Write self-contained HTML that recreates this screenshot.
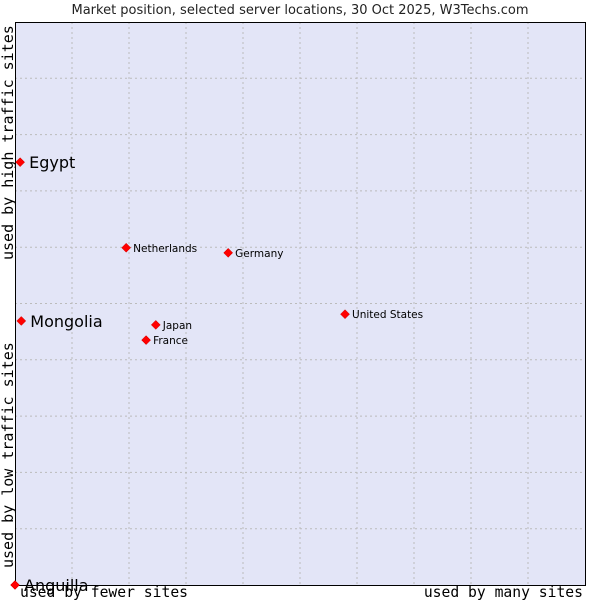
<!DOCTYPE html>
<html><head><meta charset="utf-8"><style>
body{margin:0;background:#fff;width:600px;height:600px;overflow:hidden}
svg text{font-family:"DejaVu Sans","Liberation Sans",sans-serif}
.mono{font-family:"DejaVu Sans Mono","Liberation Mono",monospace}
</style></head><body>
<svg id="chart" width="600" height="600">
<text x="300" y="14" text-anchor="middle" font-size="13" fill="#222">Market position, selected server locations, 30 Oct 2025, W3Techs.com</text>
<rect x="15" y="22" width="570" height="563" fill="#e3e5f7"/>
<g id="grid"></g>
<rect x="15.5" y="22.5" width="570" height="563" stroke="#000" fill="none"/>
<g id="marks"></g>
<text class="mono" x="20" y="597" font-size="14.7" fill="#000">used by fewer sites</text>
<text class="mono" x="583" y="597" font-size="14.7" text-anchor="end" fill="#000">used by many sites</text>
<text class="mono" transform="translate(13,568) rotate(-90)" font-size="15" fill="#000">used by low traffic sites</text>
<text class="mono" transform="translate(13,260) rotate(-90)" font-size="15" fill="#000">used by high traffic sites</text>
</svg>
<script>
const names=["Egypt","Mongolia","Anguilla","Netherlands","Germany","United States","Japan","France"];
const xVals=[0.9,1.1,0,19.5,37.4,57.9,24.7,23.0];
const yVals=[75.1,46.9,0,59.9,59.0,48.1,46.2,43.5];
const bigLabel=[true,true,true,false,false,false,false,false];
const ns="http://www.w3.org/2000/svg";
const X=v=>15+v*5.7, Y=v=>585-v*5.63;
const grid=document.getElementById('grid');
for(let i=1;i<10;i++){
 const v=document.createElementNS(ns,'line');
 v.setAttribute('x1',X(i*10));v.setAttribute('x2',X(i*10));v.setAttribute('y1',22);v.setAttribute('y2',585);
 v.setAttribute('stroke','#bbb');v.setAttribute('stroke-dasharray','2,3');
 
 
 grid.appendChild(v);
 const h=document.createElementNS(ns,'line');
 h.setAttribute('y1',Y(i*10));h.setAttribute('y2',Y(i*10));h.setAttribute('x1',15);h.setAttribute('x2',585);
 h.setAttribute('stroke','#bbb');h.setAttribute('stroke-dasharray','2,3');
 
 
 grid.appendChild(h);
}
const marks=document.getElementById('marks');
names.forEach((n,i)=>{
 const cx=X(xVals[i]),cy=Y(yVals[i]);
 const p=document.createElementNS(ns,'path');
 p.setAttribute('d',`M${cx} ${cy-4.5}L${cx+4.5} ${cy}L${cx} ${cy+4.5}L${cx-4.5} ${cy}Z`);
 p.setAttribute('fill','#f00');p.setAttribute('stroke','#c00');p.setAttribute('stroke-width','0.5');
 
 
 marks.appendChild(p);
 const t=document.createElementNS(ns,'text');
 t.setAttribute('x',cx+(bigLabel[i]?9:7));t.setAttribute('y',cy+(bigLabel[i]?6:4));
 t.setAttribute('font-size',bigLabel[i]?16:10.5);t.setAttribute('fill','#000');
 t.textContent=n;
 
 
 marks.appendChild(t);
});
</script>
</body></html>
